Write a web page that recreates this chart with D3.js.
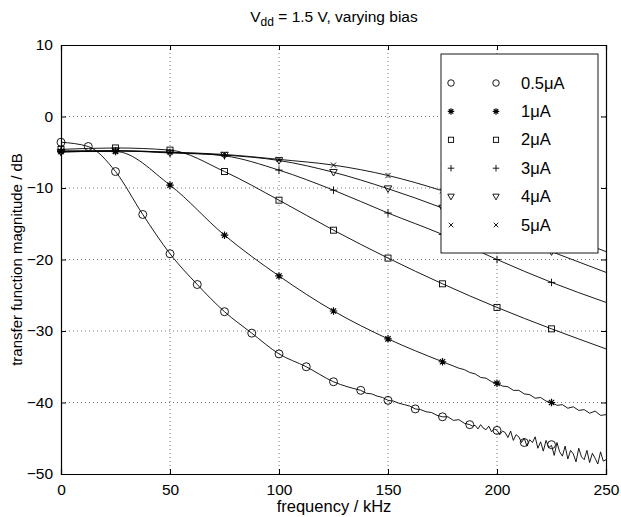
<!DOCTYPE html>
<html><head><meta charset="utf-8">
<script src="https://cdn.jsdelivr.net/npm/d3@7"></script>
<style>body{margin:0;background:#fff}svg{display:block}text{font-family:"Liberation Sans",Arial,Helvetica,sans-serif;fill:#000}</style>
</head><body><svg id="c" width="621" height="517"></svg>
<script>
// ---- data ----
const xTicks = [0, 50, 100, 150, 200, 250];
const yTicks = [10, 0, -10, -20, -30, -40, -50];
const seriesNames = ["0.5\u03bcA", "1\u03bcA", "2\u03bcA", "3\u03bcA", "4\u03bcA", "5\u03bcA"];
const markerTypes = ["circle", "asterisk", "square", "plus", "triangle", "cross"];

// 0.5uA measured every 12.5 kHz
const freqFine = [0,12.5,25,37.5,50,62.5,75,87.5,100,112.5,125,137.5,150,162.5,175,187.5,200,212.5,225];
const ua05 = [-3.6,-4.2,-7.7,-13.7,-19.2,-23.5,-27.3,-30.3,-33.2,-35.0,-37.1,-38.3,-39.7,-40.9,-42.0,-43.1,-43.9,-45.6,-45.9];
// other bias currents every 25 kHz
const freqCoarse = [0,25,50,75,100,125,150,175,200,225];
const ua1 = [-4.9,-4.9,-9.6,-16.6,-22.3,-27.2,-31.1,-34.3,-37.3,-40.0];
const ua2 = [-4.6,-4.4,-4.7,-7.7,-11.7,-15.9,-19.8,-23.4,-26.7,-29.7];
const ua3 = [-4.8,-4.8,-5.0,-5.5,-7.5,-10.3,-13.5,-16.5,-20.0,-23.2];
const ua4 = [-5.0,-4.8,-5.1,-5.4,-6.15,-7.8,-10.1,-12.8,-15.9,-18.9];
const ua5 = [-4.9,-4.8,-5.0,-5.3,-6.0,-6.8,-8.25,-10.4,-13.1,-16.0];
// trace end values at 250 kHz
const end250 = [-48.1,-41.7,-32.5,-26.0,-21.8,-18.9];
// noisy tail of the 0.5uA trace
const tail05Freq = [137.5,140,142.5,145,147.5,150,152.5,155,157.5,160,162.5,165,167.5,170,172.5,175,177.5,180,182.5,185,187.5,
  188.75,190,191.25,192.5,193.75,195,196.25,197.5,198.75,200,201.25,202.5,203.75,205,206.25,207.5,208.75,210,211.25,212.5,
  213.75,215,216.25,217.5,218.75,220,221.25,222.5,223.75,225,226.25,227.5,228.75,230,231.25,232.5,233.75,235,236.25,237.5,
  238.75,240,241.25,242.5,243.75,245,246.25,247.5,248.75,250];
const tail05 = [-38.3,-38.7,-38.8,-39.1,-39.3,-39.7,-39.8,-40.1,-40.3,-40.5,-40.9,-41.0,-41.3,-41.4,-41.8,-42.0,-42.0,-42.5,-42.4,-42.9,-43.1,
  -43.3,-43.2,-43.7,-43.1,-43.6,-43.8,-43.3,-44.1,-43.7,-43.9,-44.5,-44.0,-44.2,-44.9,-44.0,-45.3,-44.5,-44.8,-45.6,-45.0,
  -46.1,-45.2,-45.6,-44.8,-46.4,-45.5,-46.8,-45.3,-46.3,-46.0,-47.4,-45.6,-46.9,-47.5,-46.1,-47.9,-46.7,-47.2,-48.3,-46.4,
  -47.6,-48.0,-46.7,-48.4,-47.1,-47.8,-48.6,-46.9,-48.2,-48.0];
// slightly noisy tail of the 1uA trace
const tail1Freq = [175,177.5,180,182.5,185,187.5,190,192.5,195,197.5,200,202.5,205,207.5,210,212.5,215,217.5,220,222.5,225,227.5,230,232.5,235,237.5,240,242.5,245,247.5,250];
const tail1 = [-34.3,-34.6,-34.9,-35.2,-35.4,-35.8,-36.0,-36.5,-36.6,-37.1,-37.3,-37.7,-37.8,-38.3,-38.3,-38.8,-38.9,-39.4,-39.3,-39.8,-40.0,-40.4,-40.3,-40.8,-40.6,-41.1,-41.0,-41.5,-41.2,-41.8,-41.7];

// ---- layout ----
const m = {l: 61, r: 606, t: 45, b: 474};
const svg = d3.select("#c");
const x = d3.scaleLinear().domain([0, 250]).range([m.l, m.r]);
const y = d3.scaleLinear().domain([-50, 10]).range([m.b, m.t]);

// grid
const g = svg.append("g");
g.selectAll(".gx").data(xTicks.slice(1, -1)).join("line")
  .attr("x1", d => x(d)).attr("x2", d => x(d)).attr("y1", m.t).attr("y2", m.b)
  .attr("stroke", "#555").attr("stroke-width", 0.8).attr("stroke-dasharray", "1,3");
g.selectAll(".gy").data(yTicks.slice(1, -1)).join("line")
  .attr("y1", d => y(d)).attr("y2", d => y(d)).attr("x1", m.l).attr("x2", m.r)
  .attr("stroke", "#555").attr("stroke-width", 0.8).attr("stroke-dasharray", "1,3");

// axes (ticks inward)
const tl = 5;
const axB = svg.append("g").attr("transform", `translate(0,${m.b})`)
  .call(d3.axisBottom(x).tickValues(xTicks).tickSize(-tl).tickPadding(10).tickFormat(d3.format("d")));
const axT = svg.append("g").attr("transform", `translate(0,${m.t})`)
  .call(d3.axisTop(x).tickValues(xTicks).tickSize(-tl).tickFormat(""));
const axL = svg.append("g").attr("transform", `translate(${m.l},0)`)
  .call(d3.axisLeft(y).tickValues(yTicks).tickSize(-tl).tickPadding(8).tickFormat(d => d < 0 ? "\u2212" + Math.abs(d) : d));
const axR = svg.append("g").attr("transform", `translate(${m.r},0)`)
  .call(d3.axisRight(y).tickValues(yTicks).tickSize(-tl).tickFormat(""));
[axB, axT, axL, axR].forEach(a => {
  a.select(".domain").attr("stroke", "#000").attr("stroke-width", 1.2);
  a.selectAll(".tick line").attr("stroke", "#000");
  a.selectAll("text").style("font-size", "15.5px").style("font-family", '"Liberation Sans",Arial,sans-serif').attr("fill", "#000");
});

// traces: smooth measured part + raw (linear) noisy tails
const smooth = d3.line().x(d => x(d[0])).y(d => y(d[1])).curve(d3.curveMonotoneX);
const raw = d3.line().x(d => x(d[0])).y(d => y(d[1])).curve(d3.curveLinear);
const coarse = [ua1, ua2, ua3, ua4, ua5];
const smoothTraces = [], rawTraces = [];
smoothTraces.push(freqFine.map((f, i) => [f, ua05[i]]).filter(p => p[0] <= tail05Freq[0]));
rawTraces.push(tail05Freq.map((f, i) => [f, tail05[i]]));
smoothTraces.push(freqCoarse.map((f, i) => [f, ua1[i]]).filter(p => p[0] <= tail1Freq[0]));
rawTraces.push(tail1Freq.map((f, i) => [f, tail1[i]]));
coarse.slice(1).forEach((arr, k) => {
  smoothTraces.push(freqCoarse.map((f, i) => [f, arr[i]]).concat([[250, end250[k + 2]]]));
});
const tg = svg.append("g").attr("fill", "none").attr("stroke", "#000").attr("stroke-width", 0.9);
tg.selectAll(".s").data(smoothTraces).join("path").attr("d", smooth);
tg.selectAll(".r").data(rawTraces).join("path").attr("d", raw).attr("stroke-linejoin", "bevel");

// markers
function marker(sel, type, cx, cy, s) {
  const gg = sel.append("g").attr("transform", `translate(${cx},${cy})`)
    .attr("fill", "none").attr("stroke", "#000").attr("stroke-width", 0.9);
  const h = s / 2;
  if (type === "circle") gg.append("circle").attr("r", h);
  else if (type === "square") gg.append("rect").attr("x", -h * 0.8).attr("y", -h * 0.8).attr("width", s * 0.8).attr("height", s * 0.8);
  else if (type === "plus") gg.append("path").attr("d", `M${-h},0H${h}M0,${-h}V${h}`);
  else if (type === "cross") gg.append("path").attr("d", `M${-h*0.7},${-h*0.7}L${h*0.7},${h*0.7}M${-h*0.7},${h*0.7}L${h*0.7},${-h*0.7}`);
  else if (type === "triangle") gg.append("path").attr("d", `M${-h},${-h*0.75}H${h}L0,${h}Z`);
  else if (type === "asterisk") gg.append("path").attr("stroke-width", 1.2)
    .attr("d", `M${-h},0H${h}M0,${-h}V${h}M${-h*0.7},${-h*0.7}L${h*0.7},${h*0.7}M${-h*0.7},${h*0.7}L${h*0.7},${-h*0.7}`);
}
const mg = svg.append("g");
freqFine.forEach((f, i) => marker(mg, markerTypes[0], x(f), y(ua05[i]), 8));
coarse.forEach((arr, k) => freqCoarse.forEach((f, i) => marker(mg, markerTypes[k + 1], x(f), y(arr[i]), 7.5)));

// legend
const lg = svg.append("g");
lg.append("rect").attr("x", 441).attr("y", 54).attr("width", 157).attr("height", 199)
  .attr("fill", "#fff").attr("stroke", "#000").attr("stroke-width", 0.9);
seriesNames.forEach((name, i) => {
  const ry = 83 + i * 28.4;
  marker(lg, markerTypes[i], 451, ry, 6.5);
  marker(lg, markerTypes[i], 496, ry, 6.5);
  lg.append("text").attr("x", 521).attr("y", ry + 5.5).style("font-size", "16.5px").text(name);
});

// labels
const title = svg.append("text").attr("x", 334).attr("y", 22).attr("text-anchor", "middle").style("font-size", "15.5px");
title.append("tspan").text("V");
title.append("tspan").attr("dy", 4).style("font-size", "12px").text("dd");
title.append("tspan").attr("dy", -4).text(" = 1.5 V, varying bias");
svg.append("text").attr("x", 334).attr("y", 512).attr("text-anchor", "middle").style("font-size", "16.5px").text("frequency / kHz");
svg.append("text").attr("transform", `translate(22,${(m.t + m.b) / 2}) rotate(-90)`).attr("text-anchor", "middle")
  .style("font-size", "15px").text("transfer function magnitude / dB");
</script></body></html>
